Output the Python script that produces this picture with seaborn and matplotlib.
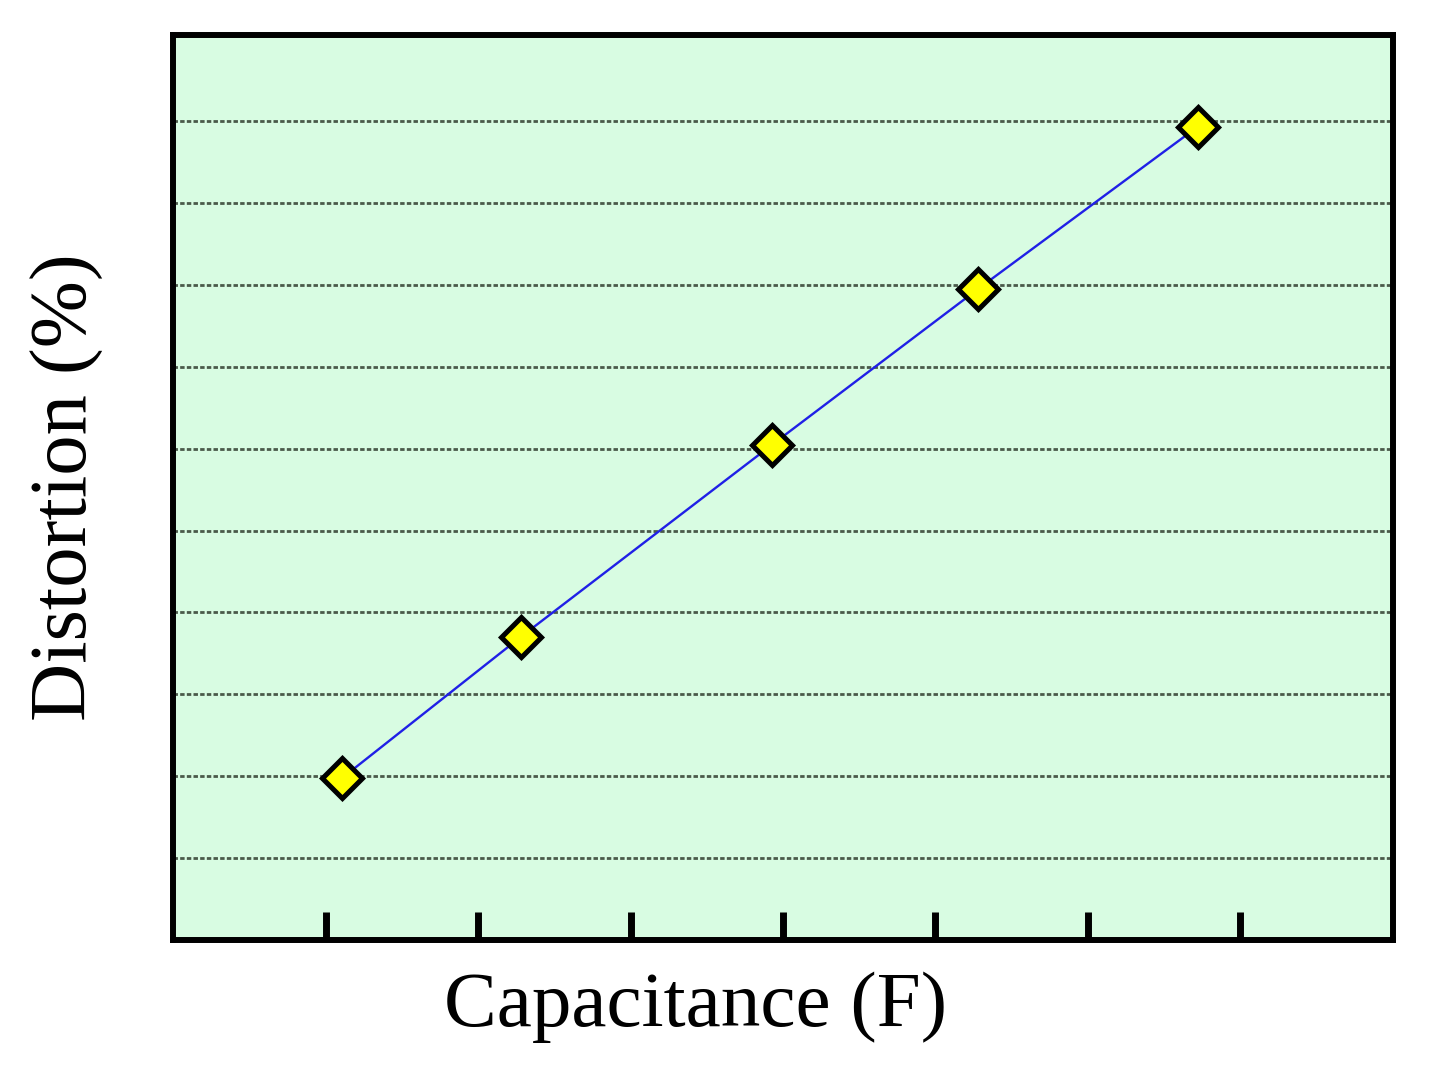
import numpy as np
import pandas as pd
import matplotlib
matplotlib.use("Agg")
import matplotlib.pyplot as plt
import seaborn as sns

# values
capacitance = [1.11, 2.28, 3.93, 5.28, 6.72]
distortion = [1.98, 3.70, 6.05, 7.95, 9.93]
grid_levels = [1, 2, 3, 4, 5, 6, 7, 8, 9, 10]
x_ticks = [1, 2, 3, 4, 5, 6, 7]

df = pd.DataFrame({"Capacitance": capacitance, "Distortion": distortion})

sns.set_style("white")
plt.rcParams['font.family'] = ['Liberation Serif', 'DejaVu Serif']
plt.rcParams['text.color'] = 'black'
plt.rcParams['axes.labelcolor'] = 'black'

fig = plt.figure(figsize=(14.35, 10.83), dpi=100)
ax = fig.add_axes([0.1206, 0.132, 0.8501, 0.8357])
ax.set_facecolor("#d8fce2")

# dashed horizontal guides
for g in grid_levels:
    ax.axhline(g, color="#4a5a4a", lw=2.0, ls=(0, (1.6, 0.8)), zorder=1)

sns.lineplot(data=df, x="Capacitance", y="Distortion", ax=ax,
             color="#2020e6", lw=1.7, marker="D", markersize=20,
             markerfacecolor="#ffff00", markeredgecolor="black",
             markeredgewidth=3.6, zorder=3)

ax.set_xlim(0, 8)
ax.set_ylim(0, 11.05)
ax.set_xticks(x_ticks)
ax.set_yticks([])
ax.tick_params(axis="x", direction="in", length=20, width=5, color="black",
               labelbottom=False, bottom=True)

for s in ax.spines.values():
    s.set_linewidth(4.3)
    s.set_color("black")

ax.set_xlabel("Capacitance (F)", fontsize=57, labelpad=30)
ax.xaxis.set_label_coords(0.428, -0.035, transform=ax.transAxes)
ax.xaxis.label.set_va("top")
ax.set_ylabel("Distortion (%)", fontsize=58, labelpad=50)

fig.savefig("out.png", dpi=100)
